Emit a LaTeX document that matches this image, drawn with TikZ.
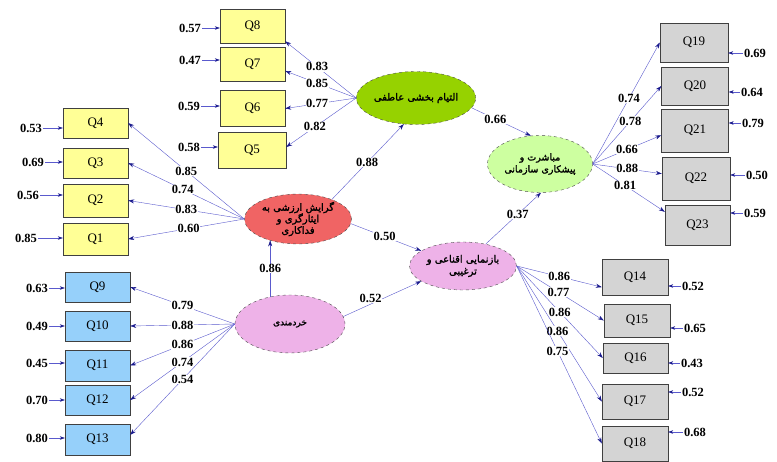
\documentclass[tikz,border=0pt]{standalone}
\usepackage{fontspec}
\setmainfont{Liberation Serif}
\newfontfamily\fafont[Script=Arabic,FakeBold=1.8]{DejaVu Sans}
\TeXXeTstate=1
\usetikzlibrary{arrows.meta}
\usetikzlibrary{shapes.geometric}

\definecolor{pathblue}{RGB}{90,90,205}
\definecolor{tipblue}{RGB}{25,25,140}
\definecolor{boxyellow}{RGB}{255,255,150}
\definecolor{boxblue}{RGB}{150,208,250}
\definecolor{boxgray}{RGB}{212,212,212}
\definecolor{latgreen}{RGB}{150,210,0}
\definecolor{latlight}{RGB}{205,255,160}
\definecolor{latred}{RGB}{240,100,100}
\definecolor{latpink}{RGB}{238,178,232}

\begin{document}
\begin{tikzpicture}[x=1pt, y=-1pt,
  item/.style={draw=black!75, minimum width=65pt, minimum height=32pt, inner sep=0pt, font=\fontsize{13}{15}\selectfont},
  yel/.style={item, fill=boxyellow},
  blu/.style={item, fill=boxblue, minimum height=30pt},
  gry/.style={item, fill=boxgray, minimum width=66pt, minimum height=38pt},
  latent/.style={ellipse, draw=black!70, dashed, inner sep=0pt, align=center, font=\fafont\fontsize{10}{12}\selectfont},
  load/.style={draw=pathblue, -{Stealth[length=6pt,width=4pt,color=tipblue]}},
  lbl/.style={fill=white, inner sep=0.5pt, font=\bfseries\fontsize{12.5}{14}\selectfont},
  err/.style={inner sep=1pt, font=\bfseries\fontsize{12.5}{14}\selectfont},
  errarr/.style={draw=pathblue, -{Stealth[length=5pt,width=3.5pt,color=tipblue]}}]
  \useasboundingbox (0,0) rectangle (777,461);

  % Latent variables
  \node[latent, fill=latgreen, minimum width=106pt, minimum height=53pt] (emo) at (416,98) {\beginR التیام بخشی عاطفی\endR};
  \node[latent, fill=latlight, minimum width=105pt, minimum height=57pt, font=\fafont\fontsize{9.5}{12}\selectfont] (rel) at (540,164) {\beginR مباشرت و\endR\\\beginR پیشکاری سازمانی\endR};
  \node[latent, fill=latred, minimum width=107pt, minimum height=50pt, font=\fafont\fontsize{10}{11.5}\selectfont] (red) at (298,219) {\beginR گرایش ارزشی به\endR\\\beginR ایثارگری و\endR\\\beginR فداکاری\endR};
  \node[latent, fill=latpink, minimum width=110pt, minimum height=58pt, font=\fafont\fontsize{9}{11}\selectfont] (wise) at (290,324) {\beginR خردمندی\endR};
  \node[latent, fill=latpink, minimum width=107pt, minimum height=48pt] (mid) at (463,266) {\beginR بازنمایی اقناعی و\endR\\\beginR ترغیبی\endR};

  % Yellow items
  \node[yel, minimum height=34pt] (q8) at (252.5,26) {Q8};
  \node[yel, minimum height=34pt] (q7) at (252.5,64) {Q7};
  \node[yel, minimum height=36pt] (q6) at (252.5,108.5) {Q6};
  \node[yel, minimum height=36pt, minimum width=68pt] (q5) at (252,150) {Q5};
  \node[yel, minimum height=30pt] (q4) at (95.5,123) {Q4};
  \node[yel, minimum height=30pt] (q3) at (95.5,163) {Q3};
  \node[yel, minimum height=33pt] (q2) at (95.5,200.5) {Q2};
  \node[yel] (q1) at (95.5,239) {Q1};

  % Blue items
  \node[blu] (q9) at (97.5,287) {Q9};
  \node[blu] (q10) at (97.5,326) {Q10};
  \node[blu, minimum height=31pt] (q11) at (97.5,365.5) {Q11};
  \node[blu] (q12) at (97.5,400) {Q12};
  \node[blu, minimum height=31pt] (q13) at (97.5,439.5) {Q13};

  % Gray items
  \node[gry, minimum width=68pt, minimum height=39pt] (q19) at (694,42.5) {Q19};
  \node[gry, minimum width=67pt] (q20) at (695,86) {Q20};
  \node[gry, minimum width=67pt, minimum height=43pt] (q21) at (695,130.5) {Q21};
  \node[gry, minimum width=68pt, minimum height=43pt] (q22) at (696,178.5) {Q22};
  \node[gry, minimum width=65pt, minimum height=40pt] (q23) at (697.5,225) {Q23};
  \node[gry, minimum height=36pt] (q14) at (635,277) {Q14};
  \node[gry, minimum height=33pt] (q15) at (637,320.5) {Q15};
  \node[gry, minimum height=30pt, minimum width=65pt] (q16) at (635.5,358) {Q16};
  \node[gry, minimum height=35pt] (q17) at (635,401.5) {Q17};
  \node[gry, minimum height=35pt] (q18) at (635,443.5) {Q18};

  % Structural paths
  \draw[load] (red.30) -- node[lbl, pos=0.49] {0.88} (emo.-115);
  \draw[load] (red.-5) -- node[lbl, pos=0.48] {0.50} (mid.160);
  \draw[load] (wise.126) -- node[lbl, pos=0.5] {0.86} (wise.126 |- red.-143);
  \draw[load] (wise.8) -- node[lbl, pos=0.35, above=1pt] {0.52} (mid.200);
  \draw[load] (emo.-10) -- node[lbl, pos=0.4] {0.66} (rel.108);
  \draw[load] (mid.44) -- node[lbl, pos=0.58] {0.37} (rel.-88);

  % Loadings
  \draw[load] (emo.west) -- node[lbl, pos=0.55] {0.83} (q8.-25);
  \draw[load] (emo.west) -- node[lbl, pos=0.55] {0.85} (q7.-12);
  \draw[load] (emo.west) -- node[lbl, pos=0.55] {0.77} (q6.east);
  \draw[load] (emo.west) -- node[lbl, pos=0.59] {0.82} (q5.5);

  \draw[load] (red.west) -- node[lbl, pos=0.5] {0.85} (q4.east);
  \draw[load] (red.west) -- node[lbl, pos=0.53] {0.74} (q3.east);
  \draw[load] (red.west) -- node[lbl, pos=0.5] {0.83} (q2.east);
  \draw[load] (red.west) -- node[lbl, pos=0.48] {0.60} (q1.east);

  \draw[load] (wise.west) -- node[lbl, pos=0.5] {0.79} (q9.east);
  \draw[load] (wise.west) -- node[lbl, pos=0.5] {0.88} (q10.east);
  \draw[load] (wise.west) -- node[lbl, pos=0.5] {0.86} (q11.east);
  \draw[load] (wise.west) -- node[lbl, pos=0.5] {0.74} (q12.east);
  \draw[load] (wise.west) -- node[lbl, pos=0.5] {0.54} (q13.8);

  \draw[load] (rel.east) -- node[lbl, pos=0.54] {0.74} (q19.west);
  \draw[load] (rel.east) -- node[lbl, pos=0.55] {0.78} (q20.west);
  \draw[load] (rel.east) -- node[lbl, pos=0.5] {0.66} (q21.188);
  \draw[load] (rel.east) -- node[lbl, pos=0.5] {0.88} (q22.172);
  \draw[load] (rel.east) -- node[lbl, pos=0.45] {0.81} (q23.158);

  \draw[load] (mid.east) -- node[lbl, pos=0.5] {0.86} (q14.197);
  \draw[load] (mid.east) -- node[lbl, pos=0.48] {0.77} (q15.west);
  \draw[load] (mid.east) -- node[lbl, pos=0.5] {0.86} (q16.west);
  \draw[load] (mid.east) -- node[lbl, pos=0.48] {0.86} (q17.west);
  \draw[load] (mid.east) -- node[lbl, pos=0.48] {0.75} (q18.west);

  % Error terms
  \node[err] (e8) at (190,28) {0.57};
  \node[err] (e7) at (190,60) {0.47};
  \node[err] (e6) at (189,106) {0.59};
  \node[err] (e5) at (189,147) {0.58};
  \node[err] (e4) at (31,128) {0.53};
  \node[err] (e3) at (33,162) {0.69};
  \node[err] (e2) at (28,195) {0.56};
  \node[err] (e1) at (26,238) {0.85};
  \node[err] (e9) at (37,288) {0.63};
  \node[err] (e10) at (37,326) {0.49};
  \node[err] (e11) at (37,363) {0.45};
  \node[err] (e12) at (37,400) {0.70};
  \node[err] (e13) at (37,438) {0.80};
  \node[err] (e19) at (755,53) {0.69};
  \node[err] (e20) at (752,92) {0.64};
  \node[err] (e21) at (753,123) {0.79};
  \node[err] (e22) at (757,175) {0.50};
  \node[err] (e23) at (755,213) {0.59};
  \node[err] (e14) at (693,286) {0.52};
  \node[err] (e15) at (695,328) {0.65};
  \node[err] (e16) at (692,363) {0.43};
  \node[err] (e17) at (693,392) {0.52};
  \node[err] (e18) at (695,432) {0.68};

  \foreach \i in {1,...,13} {
    \draw[errarr] (e\i) -- (q\i.west |- e\i);
  }
  \foreach \i in {14,...,23} {
    \draw[errarr] (e\i) -- (q\i.east |- e\i);
  }
\end{tikzpicture}
\end{document}
